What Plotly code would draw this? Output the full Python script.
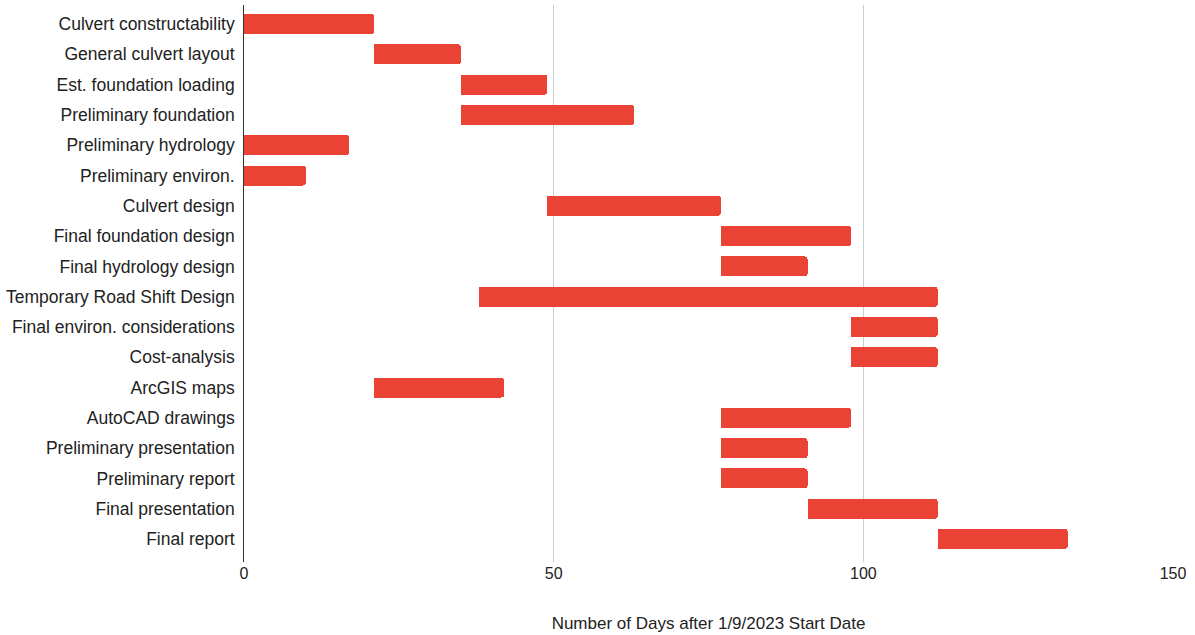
import plotly.graph_objects as go

tasks = [
    "Culvert constructability", "General culvert layout", "Est. foundation loading",
    "Preliminary foundation", "Preliminary hydrology", "Preliminary environ.",
    "Culvert design", "Final foundation design", "Final hydrology design",
    "Temporary Road Shift Design", "Final environ. considerations", "Cost-analysis",
    "ArcGIS maps", "AutoCAD drawings", "Preliminary presentation",
    "Preliminary report", "Final presentation", "Final report",
]
start_day = [0, 21, 35, 35, 0, 0, 49, 77, 77, 38, 98, 98, 21, 77, 77, 77, 91, 112]
end_day = [21, 35, 49, 63, 17, 10, 77, 98, 91, 112, 112, 112, 42, 98, 91, 91, 112, 133]
duration = [e - s for s, e in zip(start_day, end_day)]
x_ticks = [0, 50, 100, 150]

fig = go.Figure()
fig.add_trace(go.Bar(
    y=tasks, x=start_day, orientation="h",
    marker=dict(color="rgba(0,0,0,0)", line=dict(width=0)),
    hoverinfo="skip", showlegend=False,
))
fig.add_trace(go.Bar(
    y=tasks, x=duration, orientation="h",
    marker=dict(color="#EA4335", cornerradius=3, line=dict(width=0)),
    showlegend=False,
))

fig.update_layout(
    barmode="stack",
    bargap=0.34,
    width=1195, height=635,
    margin=dict(l=244, r=22, t=5, b=73),
    plot_bgcolor="white", paper_bgcolor="white",
    font=dict(family="Liberation Sans, Arial, sans-serif", color="#222222"),
    xaxis=dict(
        range=[0, 150], tickvals=x_ticks, showgrid=True, gridcolor="#cccccc",
        gridwidth=1, zeroline=False, showline=False, ticks="",
        tickfont=dict(size=16, color="#222222"),
        title=dict(text="Number of Days after 1/9/2023 Start Date",
                   font=dict(size=17, color="#222222"), standoff=36),
        automargin=False,
    ),
    yaxis=dict(
        categoryorder="array", categoryarray=tasks,
        range=[17.76, -0.63], showgrid=False, zeroline=False,
        showline=True, linecolor="#333333", linewidth=1, ticks="",
        tickfont=dict(size=17.5, color="#222222"), ticksuffix=" ",
        automargin=False,
    ),
)

fig.write_html(
    "out.html",
    config={"displayModeBar": False},
    post_script="document.body.style.margin='0';document.body.style.padding='0';",
)
